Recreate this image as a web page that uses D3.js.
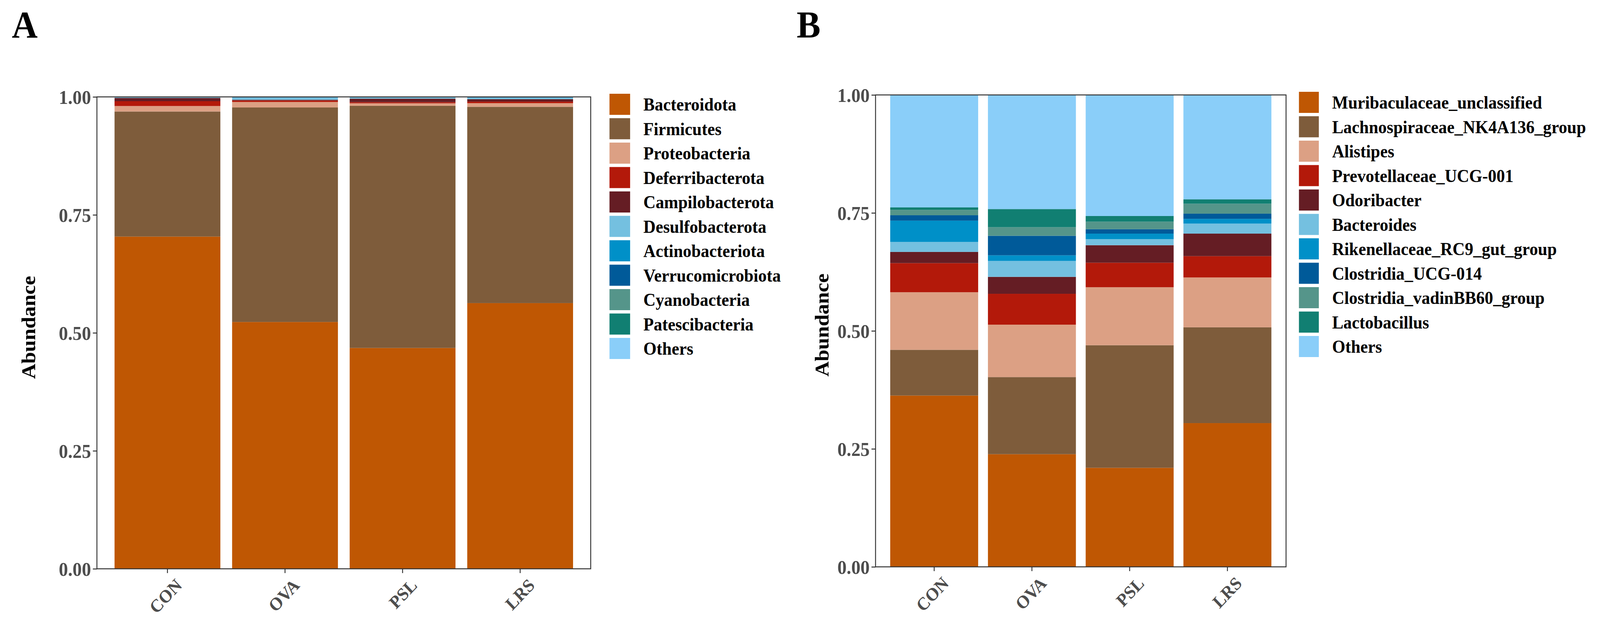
<!DOCTYPE html>
<html>
<head>
    <title>Relative abundance</title>
    <script src="https://d3js.org/d3.v7.min.js"></script>
    <style>
        html, body { margin: 0; padding: 0; background: #fff; overflow: hidden; width: 100%; height: 100%; }
        #chart { display: block; width: 100vw; height: 100vh; }
        text { font-family: "Liberation Serif", "Times New Roman", serif; font-weight: bold; }
    </style>
</head>
<body>
<svg id="chart"></svg>
<script>

const width = 4342, height = 1605;

const groups = ["CON", "OVA", "PSL", "LRS"];
const yTicks = [0, 0.25, 0.5, 0.75, 1];

// panel A: phylum level
const phylumKeys = ["Bacteroidota", "Firmicutes", "Proteobacteria", "Deferribacterota",
    "Campilobacterota", "Desulfobacterota", "Actinobacteriota", "Verrucomicrobiota",
    "Cyanobacteria", "Patescibacteria", "Others"];
const phylumValues = [
    [0.704, 0.265, 0.0116, 0.0103, 0.0069, 0.0012, 0.0003, 0.0003, 0.0002, 0.0001, 0.0001],
    [0.523, 0.4546, 0.0116, 0.003, 0.0017, 0.0047, 0.0004, 0.0006, 0.0002, 0.0001, 0.0001],
    [0.468, 0.513, 0.0054, 0.0025, 0.0074, 0.0025, 0.0003, 0.0004, 0.0002, 0.0001, 0.0002],
    [0.563, 0.416, 0.0077, 0.0033, 0.005, 0.0033, 0.0004, 0.0008, 0.0003, 0.0001, 0.0001]
];

// panel B: genus level
const genusKeys = ["Muribaculaceae_unclassified", "Lachnospiraceae_NK4A136_group", "Alistipes",
    "Prevotellaceae_UCG-001", "Odoribacter", "Bacteroides", "Rikenellaceae_RC9_gut_group",
    "Clostridia_UCG-014", "Clostridia_vadinBB60_group", "Lactobacillus", "Others"];
const genusValues = [
    [0.363, 0.0969, 0.1221, 0.0616, 0.0237, 0.0211, 0.0452, 0.0114, 0.0114, 0.0052, 0.2384],
    [0.2387, 0.1634, 0.1111, 0.0654, 0.0359, 0.0338, 0.0118, 0.0414, 0.0182, 0.0384, 0.2419],
    [0.2099, 0.2597, 0.1229, 0.052, 0.0371, 0.0128, 0.0117, 0.0094, 0.016, 0.0119, 0.2566],
    [0.3046, 0.203, 0.1056, 0.0452, 0.0477, 0.0212, 0.0101, 0.011, 0.0211, 0.0093, 0.2212]
];

const palette = ["#BF5703", "#7E5C3B", "#DCA084", "#B3190A", "#651D24", "#74C0E0",
    "#0090C8", "#005A99", "#55958A", "#117F72", "#8ACEF9"];

// scale the drawing to whatever viewport the page actually gets
const svg = d3.select("#chart")
    .attr("viewBox", `0 0 ${width} ${height}`)
    .attr("preserveAspectRatio", "none");

svg.append("rect").attr("width", width).attr("height", height).attr("fill", "#fff");

function drawPanel(cfg) {
    const keys = cfg.keys;
    const rows = groups.map((g, i) => {
        const r = { group: g };
        keys.forEach((k, j) => r[k] = cfg.values[i][j]);
        return r;
    });
    const series = d3.stack().keys(keys)(rows);

    const x = d3.scaleBand()
        .domain(groups)
        .range([cfg.left, cfg.right])
        .paddingInner(0.1)
        .paddingOuter(0.15);

    const y = d3.scaleLinear()
        .domain([0, 1])
        .range([cfg.bottom, cfg.top]);

    const color = d3.scaleOrdinal().domain(keys).range(palette);

    const g = svg.append("g");

    g.selectAll("g.layer")
        .data(series)
        .join("g")
        .attr("class", "layer")
        .attr("fill", d => color(d.key))
        .selectAll("rect")
        .data(d => d)
        .join("rect")
        .attr("x", d => x(d.data.group))
        .attr("y", d => y(Math.min(1, d[1])))
        .attr("height", d => Math.max(0, y(d[0]) - y(Math.min(1, d[1]))))
        .attr("width", x.bandwidth());

    // panel border
    g.append("rect")
        .attr("x", cfg.left).attr("y", cfg.top)
        .attr("width", cfg.right - cfg.left)
        .attr("height", cfg.bottom - cfg.top)
        .attr("fill", "none")
        .attr("stroke", "#333")
        .attr("stroke-width", 2.5);

    const yAxis = g.append("g")
        .attr("transform", `translate(${cfg.left},0)`)
        .call(d3.axisLeft(y).tickValues(yTicks).tickFormat(d3.format(".2f")).tickSize(11).tickPadding(5));
    yAxis.select(".domain").remove();
    yAxis.selectAll("line").attr("stroke", "#333").attr("stroke-width", 2.5);
    yAxis.selectAll("text")
        .attr("fill", "#4d4d4d")
        .style("font-size", "50px")
        .attr("dy", "0.34em");

    const xAxis = g.append("g")
        .attr("transform", `translate(0,${cfg.bottom})`)
        .call(d3.axisBottom(x).tickSize(11).tickSizeOuter(0));
    xAxis.select(".domain").remove();
    xAxis.selectAll("line").attr("stroke", "#333").attr("stroke-width", 2.5);
    xAxis.selectAll("text")
        .attr("fill", "#4d4d4d")
        .style("font-size", "46px")
        .style("text-anchor", "end")
        .attr("y", 0)
        .attr("dy", 0)
        .attr("transform", "translate(42,45) rotate(-45)");

    // y title
    g.append("text")
        .attr("transform", `translate(${cfg.titleX},${cfg.titleY}) rotate(-90)`)
        .attr("text-anchor", "middle")
        .attr("fill", "#000")
        .style("font-size", "54px")
        .text("Abundance");

    // panel letter
    svg.append("text")
        .attr("x", cfg.letterX)
        .attr("y", 96)
        .attr("fill", "#000")
        .style("font-size", "97px")
        .text(cfg.letter);

    // legend
    const legend = svg.append("g")
        .attr("transform", `translate(${cfg.legendX},${cfg.legendY})`);
    keys.forEach((k, i) => {
        const row = legend.append("g")
            .attr("transform", `translate(0,${i * 62.5})`);
        row.append("rect")
            .attr("width", cfg.keyW)
            .attr("height", 54)
            .attr("fill", color(k));
        row.append("text")
            .attr("x", cfg.textX)
            .attr("y", 27)
            .attr("dy", "0.35em")
            .attr("fill", "#000")
            .style("font-size", "46px")
            .text(k);
    });
}

drawPanel({
    letter: "A", letterX: 32,
    keys: phylumKeys, values: phylumValues,
    left: 263, right: 1603, top: 248, bottom: 1456,
    titleX: 95, titleY: 838,
    legendX: 1654, legendY: 240, keyW: 56, textX: 92
});

drawPanel({
    letter: "B", letterX: 2162,
    keys: genusKeys, values: genusValues,
    left: 2376, right: 3490, top: 243, bottom: 1451,
    titleX: 2248, titleY: 832,
    legendX: 3525, legendY: 235, keyW: 54, textX: 90
});

</script>
</body>
</html>
